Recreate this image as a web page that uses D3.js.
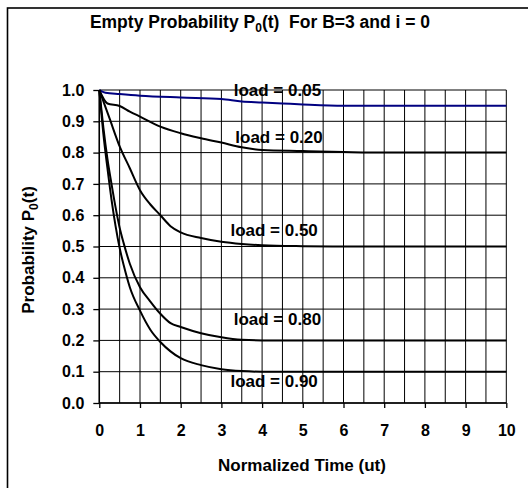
<!DOCTYPE html>
<html><head><meta charset="utf-8">
<script src="https://cdn.jsdelivr.net/npm/d3@7"></script>
<style>body{margin:0;background:#fff}svg{display:block}text{font-family:"Liberation Sans",Arial,sans-serif;font-weight:bold;fill:#000}</style>
</head><body>
<script>
const xTicks = [0,1,2,3,4,5,6,7,8,9,10];
const yTicks = [0,0.1,0.2,0.3,0.4,0.5,0.6,0.7,0.8,0.9,1.0];
const tLoad005 = [0,0.15,0.5,1,2,3,3.5,4,4.5,5,6,10];
const pLoad005 = [1.0,0.991,0.987,0.982,0.976,0.971,0.963,0.96,0.957,0.954,0.95,0.95];
const tLoad020 = [0,0.2,0.5,0.75,1,1.5,2,2.5,3,3.5,4,5,6,7,10];
const pLoad020 = [1.0,0.957,0.949,0.931,0.915,0.883,0.862,0.846,0.832,0.817,0.808,0.805,0.802,0.8,0.8];
const tLoad050 = [0,0.25,0.5,0.75,1,1.25,1.5,1.75,2,2.5,3,3.5,4,5,6,10];
const pLoad050 = [1.0,0.91,0.82,0.75,0.68,0.635,0.6,0.565,0.545,0.527,0.515,0.508,0.504,0.501,0.5,0.5];
const tLoad080 = [0,0.1,0.2,0.3,0.4,0.5,0.6,0.75,1,1.25,1.5,1.75,2,2.5,3,3.5,4,10];
const pLoad080 = [1.0,0.88,0.78,0.7,0.625,0.56,0.51,0.445,0.37,0.325,0.285,0.255,0.243,0.223,0.21,0.202,0.2,0.2];
const tLoad090 = [0,0.1,0.2,0.3,0.4,0.5,0.6,0.75,1,1.25,1.5,1.75,2,2.5,3,3.5,4,10];
const pLoad090 = [1.0,0.86,0.75,0.65,0.565,0.495,0.44,0.37,0.295,0.235,0.195,0.165,0.143,0.121,0.108,0.102,0.1,0.1];
const seriesNames = ["load = 0.05","load = 0.20","load = 0.50","load = 0.80","load = 0.90"];
// label anchor (right end of text, baseline) in data units
const labelT = [5.45,5.49,5.37,5.45,5.37];
const labelP = [0.981,0.831,0.534,0.249,0.051];

const W=528,H=488;
const svg=d3.select("body").append("svg").attr("width",W).attr("height",H);
svg.append("rect").attr("width",W).attr("height",H).attr("fill","#fff");
svg.append("rect").attr("x",7.5).attr("y",8).attr("width",540).attr("height",500)
  .attr("fill","none").attr("stroke","#000").attr("stroke-width",1.6);

const x=d3.scaleLinear().domain([0,10]).range([99.3,506.3]);
const y=d3.scaleLinear().domain([0,1]).range([403,90]);

// grid
const g=svg.append("g");
g.selectAll("line.h").data(yTicks).join("line").attr("class","h")
  .attr("x1",x(0)).attr("x2",x(10)).attr("y1",d=>y(d)).attr("y2",d=>y(d))
  .attr("stroke","#000").attr("stroke-width",1);
const halfTicks=d3.range(0,10.01,0.5);
g.selectAll("line.v").data(halfTicks).join("line").attr("class","v")
  .attr("y1",y(0)).attr("y2",y(1)).attr("x1",d=>x(d)).attr("x2",d=>x(d))
  .attr("stroke","#000").attr("stroke-width",1);

// axes
const xAxis=d3.axisBottom(x).tickValues(xTicks).tickSize(5).tickPadding(17).tickFormat(d3.format("d"));
const yAxis=d3.axisLeft(y).tickValues(yTicks).tickSize(6).tickPadding(9).tickFormat(d3.format(".1f"));
const gx=svg.append("g").attr("transform",`translate(0,${y(0)})`).call(xAxis);
const gy=svg.append("g").attr("transform",`translate(${x(0)},0)`).call(yAxis);
[gx,gy].forEach(a=>{a.select(".domain").attr("stroke","#000").attr("stroke-width",1.5);
  a.selectAll(".tick line").attr("stroke","#000").attr("stroke-width",1.3);
  a.selectAll("text").style("font-size","16px").style("font-family","'Liberation Sans',Arial,sans-serif").style("font-weight","bold").attr("fill","#000");});
gy.select(".domain").attr("d",`M0,${y(0)}V${y(1)}`);
gx.select(".domain").attr("d",`M${x(0)},0H${x(10)}`);

// curves
const ts=[tLoad005,tLoad020,tLoad050,tLoad080,tLoad090];
const ps=[pLoad005,pLoad020,pLoad050,pLoad080,pLoad090];
const colors=["#000080","#000","#000","#000","#000"];
const line=d3.line().x(d=>x(d[0])).y(d=>y(d[1])).curve(d3.curveMonotoneX);
ts.forEach((t,i)=>{
  svg.append("path").datum(t.map((v,j)=>[v,ps[i][j]])).attr("d",line)
    .attr("fill","none").attr("stroke",colors[i]).attr("stroke-width",2);
});
// labels
seriesNames.forEach((n,i)=>{
  svg.append("text").attr("x",x(labelT[i])).attr("y",y(labelP[i])).attr("text-anchor","end")
    .style("font-size","17px").text(n);
});

// title
const title=svg.append("text").attr("x",260).attr("y",28).attr("text-anchor","middle").style("font-size","17.5px");
title.append("tspan").text("Empty Probability P");
title.append("tspan").attr("dy",4).style("font-size","12px").text("0");
title.append("tspan").attr("dy",-4).text("(t)\u00a0\u00a0For B=3 and i = 0");

// axis titles
svg.append("text").attr("x",302).attr("y",471).attr("text-anchor","middle").style("font-size","17px").text("Normalized Time (ut)");
const yl=svg.append("text").attr("transform","translate(34,250) rotate(-90)").attr("text-anchor","middle").style("font-size","17px");
yl.append("tspan").text("Probability P");
yl.append("tspan").attr("dy",4).style("font-size","12px").text("0");
yl.append("tspan").attr("dy",-4).text("(t)");
</script>
</body></html>
